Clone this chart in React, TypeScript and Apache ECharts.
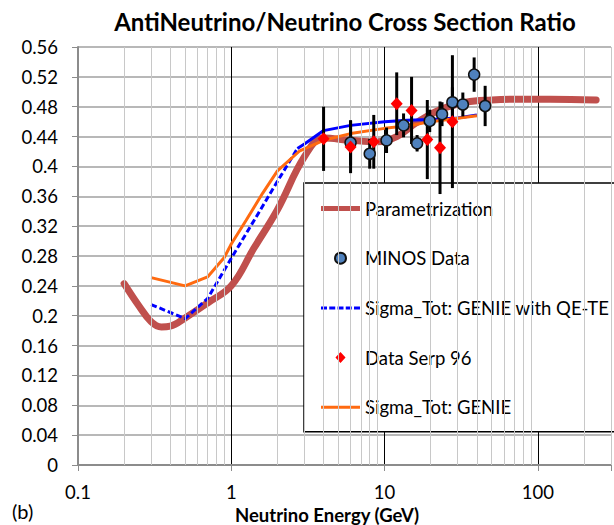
import React, { useEffect, useRef } from "react";
import * as echarts from "echarts";

// ---- Data ----
const paramE = [0.2, 0.25, 0.3, 0.35, 0.4, 0.5, 0.7, 1, 1.4, 2, 3, 4, 6, 9, 12, 16, 23, 34, 50, 75, 120, 240];
const paramV = [0.243, 0.213, 0.192, 0.185, 0.186, 0.197, 0.217, 0.24, 0.29, 0.342, 0.413, 0.438, 0.435, 0.433, 0.44, 0.458, 0.476, 0.486, 0.489, 0.49, 0.49, 0.489];

const qeteE = [0.3, 0.5, 0.7, 1, 1.5, 2, 2.7, 3, 4, 6, 10, 14, 20, 30, 40];
const qeteV = [0.215, 0.196, 0.223, 0.277, 0.337, 0.38, 0.424, 0.43, 0.448, 0.455, 0.46, 0.462, 0.463, 0.465, 0.469];
const qeteSolidFrom = 6; // index where the dashed stroke turns solid

const genieE = [0.3, 0.5, 0.7, 0.9, 1, 1.25, 1.6, 2, 2.8, 4, 6, 10, 15, 20, 40];
const genieV = [0.251, 0.24, 0.252, 0.278, 0.296, 0.328, 0.364, 0.394, 0.421, 0.435, 0.444, 0.451, 0.455, 0.46, 0.468];

const minosE = [6, 8, 10.3, 13.3, 16.3, 19.7, 23.7, 27.7, 32.4, 38.4, 45.3];
const minosV = [0.432, 0.417, 0.435, 0.455, 0.431, 0.461, 0.47, 0.486, 0.483, 0.523, 0.481];
const minosErr = [0.03, 0.02, 0.017, 0.016, 0.011, 0.015, 0.016, 0.02, 0.016, 0.023, 0.027];

const serpE = [4, 6, 8.5, 12, 15, 19, 23, 27.7];
const serpV = [0.437, 0.426, 0.433, 0.484, 0.475, 0.436, 0.425, 0.46];
const serpErr = [0.043, 0.035, 0.036, 0.042, 0.045, 0.053, 0.062, 0.089];

const minorGridE = [0.2, 0.3, 0.4, 0.5, 0.6, 0.7, 0.8, 0.9, 2, 3, 4, 5, 6, 7, 8, 9, 20, 30, 40, 50, 60, 70, 80, 90, 200, 300];

const yTicksMin = 0;
const yTicksMax = 0.56;
const yTickStep = 0.04;

const FONT = "Lato, 'Open Sans', sans-serif";

// legend icons (39 x 11 box; zero-area edges keep the box size)
const BOX = "M0,0L0,11L0,0Z M39,0L39,11L39,0Z ";
const ICON_PARAM = "path://" + BOX + "M0,3h39v5h-39z";
const ICON_QETE =
  "path://" + BOX + "M0,4h6v3h-6z M8.25,4h6v3h-6z M16.5,4h6v3h-6z M24.75,4h6v3h-6z M33,4h6v3h-6z";
const ICON_GENIE = "path://" + BOX + "M0,4h39v3h-39z";
const ICON_SERP = "path://" + BOX + "M19.5,-0.5L25,5.5L19.5,11.5L14,5.5Z";

export default function App() {
  const ref = useRef<HTMLDivElement>(null);

  useEffect(() => {
    if (!ref.current) return;
    const chart = echarts.init(ref.current, undefined, { renderer: "svg" });

    const pairs = (xs: number[], ys: number[]) => xs.map((x, i) => [x, ys[i]]);
    const errData = (xs: number[], ys: number[], es: number[]) =>
      xs.map((x, i) => [x, ys[i] - es[i], ys[i] + es[i]]);

    const errRender = (params: any, api: any) => {
      const x = api.value(0);
      const p1 = api.coord([x, api.value(1)]);
      const p2 = api.coord([x, api.value(2)]);
      return {
        type: "line",
        shape: { x1: p1[0], y1: p1[1], x2: p2[0], y2: p2[1] },
        style: { stroke: "#000", lineWidth: 3 },
      };
    };

    const QETE = "Sigma_Tot: GENIE with QE-TE";

    chart.setOption({
      animation: false,
      title: {
        text: "AntiNeutrino/Neutrino Cross Section Ratio",
        left: 340,
        textAlign: "center",
        top: 4,
        textStyle: { fontFamily: FONT, fontWeight: "bold", fontSize: 24, color: "#000" },
      },
      grid: { left: 78, right: 2, top: 47, bottom: 60 },
      xAxis: {
        type: "log",
        logBase: 10,
        min: 0.1,
        max: 300,
        axisLine: { show: true, lineStyle: { color: "#8c8c8c", width: 2 } },
        axisTick: { show: true, length: 6, lineStyle: { color: "#8c8c8c", width: 1 } },
        axisLabel: {
          margin: 17,
          fontFamily: FONT,
          fontSize: 18.5,
          color: "#000",
          formatter: (v: number) => {
            const l = Math.log10(v);
            return Math.abs(l - Math.round(l)) < 1e-6 ? String(Number(v.toPrecision(3))) : "";
          },
        },
        splitLine: { show: true, showMinLine: false, showMaxLine: false, lineStyle: { color: "#000", width: 1 } },
      },
      yAxis: {
        type: "value",
        min: yTicksMin,
        max: yTicksMax,
        interval: yTickStep,
        axisLine: { show: true, lineStyle: { color: "#8c8c8c", width: 2 } },
        axisTick: { show: true, length: 6, lineStyle: { color: "#8c8c8c", width: 1 } },
        axisLabel: {
          margin: 20,
          fontFamily: FONT,
          fontSize: 18.5,
          color: "#000",
          formatter: (v: number) => String(Number(v.toFixed(2))),
        },
        splitLine: { show: true, showMinLine: false, lineStyle: { color: "#a0a0a0", width: 1.5 } },
      },
      legend: {
        orient: "vertical",
        left: 304,
        top: 183,
        padding: [16, 40, 15, 17],
        itemWidth: 39,
        itemHeight: 11,
        itemGap: 30.7,
        symbolKeepAspect: true,
        backgroundColor: "#fff",
        borderColor: "#000",
        borderWidth: 1.5,
        borderRadius: 0,
        textStyle: { fontFamily: FONT, fontSize: 18.5, color: "#000", lineHeight: 18 },
        data: [
          { name: "Parametrization", icon: ICON_PARAM, itemStyle: { color: "#C0504D", borderWidth: 0 } },
          { name: "MINOS Data", icon: "circle" },
          { name: QETE, icon: ICON_QETE, itemStyle: { color: "#0000FF", borderWidth: 0 } },
          { name: "Data Serp 96", icon: ICON_SERP, itemStyle: { color: "#FF0000", borderWidth: 0 } },
          { name: "Sigma_Tot: GENIE", icon: ICON_GENIE, itemStyle: { color: "#FF6A10", borderWidth: 0 } },
        ],
      },
      series: [
        {
          name: "minorGrid",
          type: "line",
          data: [],
          z: 0,
          silent: true,
          markLine: {
            silent: true,
            symbol: "none",
            label: { show: false },
            lineStyle: { color: "#c8c8c8", width: 1, type: "solid" },
            data: minorGridE.map((e) => ({ xAxis: e })),
          },
        },
        {
          name: "Parametrization",
          type: "line",
          data: pairs(paramE, paramV),
          smooth: 0.4,
          showSymbol: false,
          symbol: "none",
          z: 2,
          lineStyle: { color: "#C0504D", width: 7, cap: "round", join: "round" },
          itemStyle: { color: "#C0504D" },
        },
        {
          name: QETE,
          type: "line",
          data: pairs(qeteE.slice(0, qeteSolidFrom + 1), qeteV.slice(0, qeteSolidFrom + 1)),
          showSymbol: false,
          symbol: "none",
          z: 3,
          lineStyle: { color: "#0000FF", width: 3, type: [6, 3] },
          itemStyle: { color: "#0000FF" },
        },
        {
          name: QETE,
          type: "line",
          data: pairs(qeteE.slice(qeteSolidFrom), qeteV.slice(qeteSolidFrom)),
          showSymbol: false,
          symbol: "none",
          z: 3,
          lineStyle: { color: "#0000FF", width: 3 },
          itemStyle: { color: "#0000FF" },
        },
        {
          name: "Sigma_Tot: GENIE",
          type: "line",
          data: pairs(genieE, genieV),
          showSymbol: false,
          symbol: "none",
          z: 4,
          lineStyle: { color: "#FF6A10", width: 3 },
          itemStyle: { color: "#FF6A10" },
        },
        {
          name: "minosErr",
          type: "custom",
          z: 5,
          renderItem: errRender,
          data: errData(minosE, minosV, minosErr),
          encode: { x: 0, y: [1, 2] },
          silent: true,
        },
        {
          name: "serpErr",
          type: "custom",
          z: 5,
          renderItem: errRender,
          data: errData(serpE, serpV, serpErr),
          encode: { x: 0, y: [1, 2] },
          silent: true,
        },
        {
          name: "MINOS Data",
          type: "scatter",
          data: pairs(minosE, minosV),
          symbol: "circle",
          symbolSize: 11,
          z: 6,
          itemStyle: { color: "#4F81BD", borderColor: "#111", borderWidth: 1.5, opacity: 1 },
        },
        {
          name: "Data Serp 96",
          type: "scatter",
          data: pairs(serpE, serpV),
          symbol: "diamond",
          symbolSize: [12, 13],
          z: 7,
          itemStyle: { color: "#FF0000", opacity: 1 },
        },
      ],
      graphic: [
        {
          type: "text",
          left: 12,
          top: 501,
          style: { text: "(b)", font: `20px ${FONT}`, fill: "#000" },
        },
        {
          type: "text",
          x: 327,
          y: 515,
          style: {
            text: "Neutrino Energy (GeV)",
            font: `bold 18.5px ${FONT}`,
            fill: "#000",
            align: "center",
            verticalAlign: "middle",
          },
        },
      ],
    });

    return () => chart.dispose();
  }, []);

  return <div ref={ref} style={{ width: 614, height: 525, position: "absolute", left: 0, top: 0 }} />;
}
